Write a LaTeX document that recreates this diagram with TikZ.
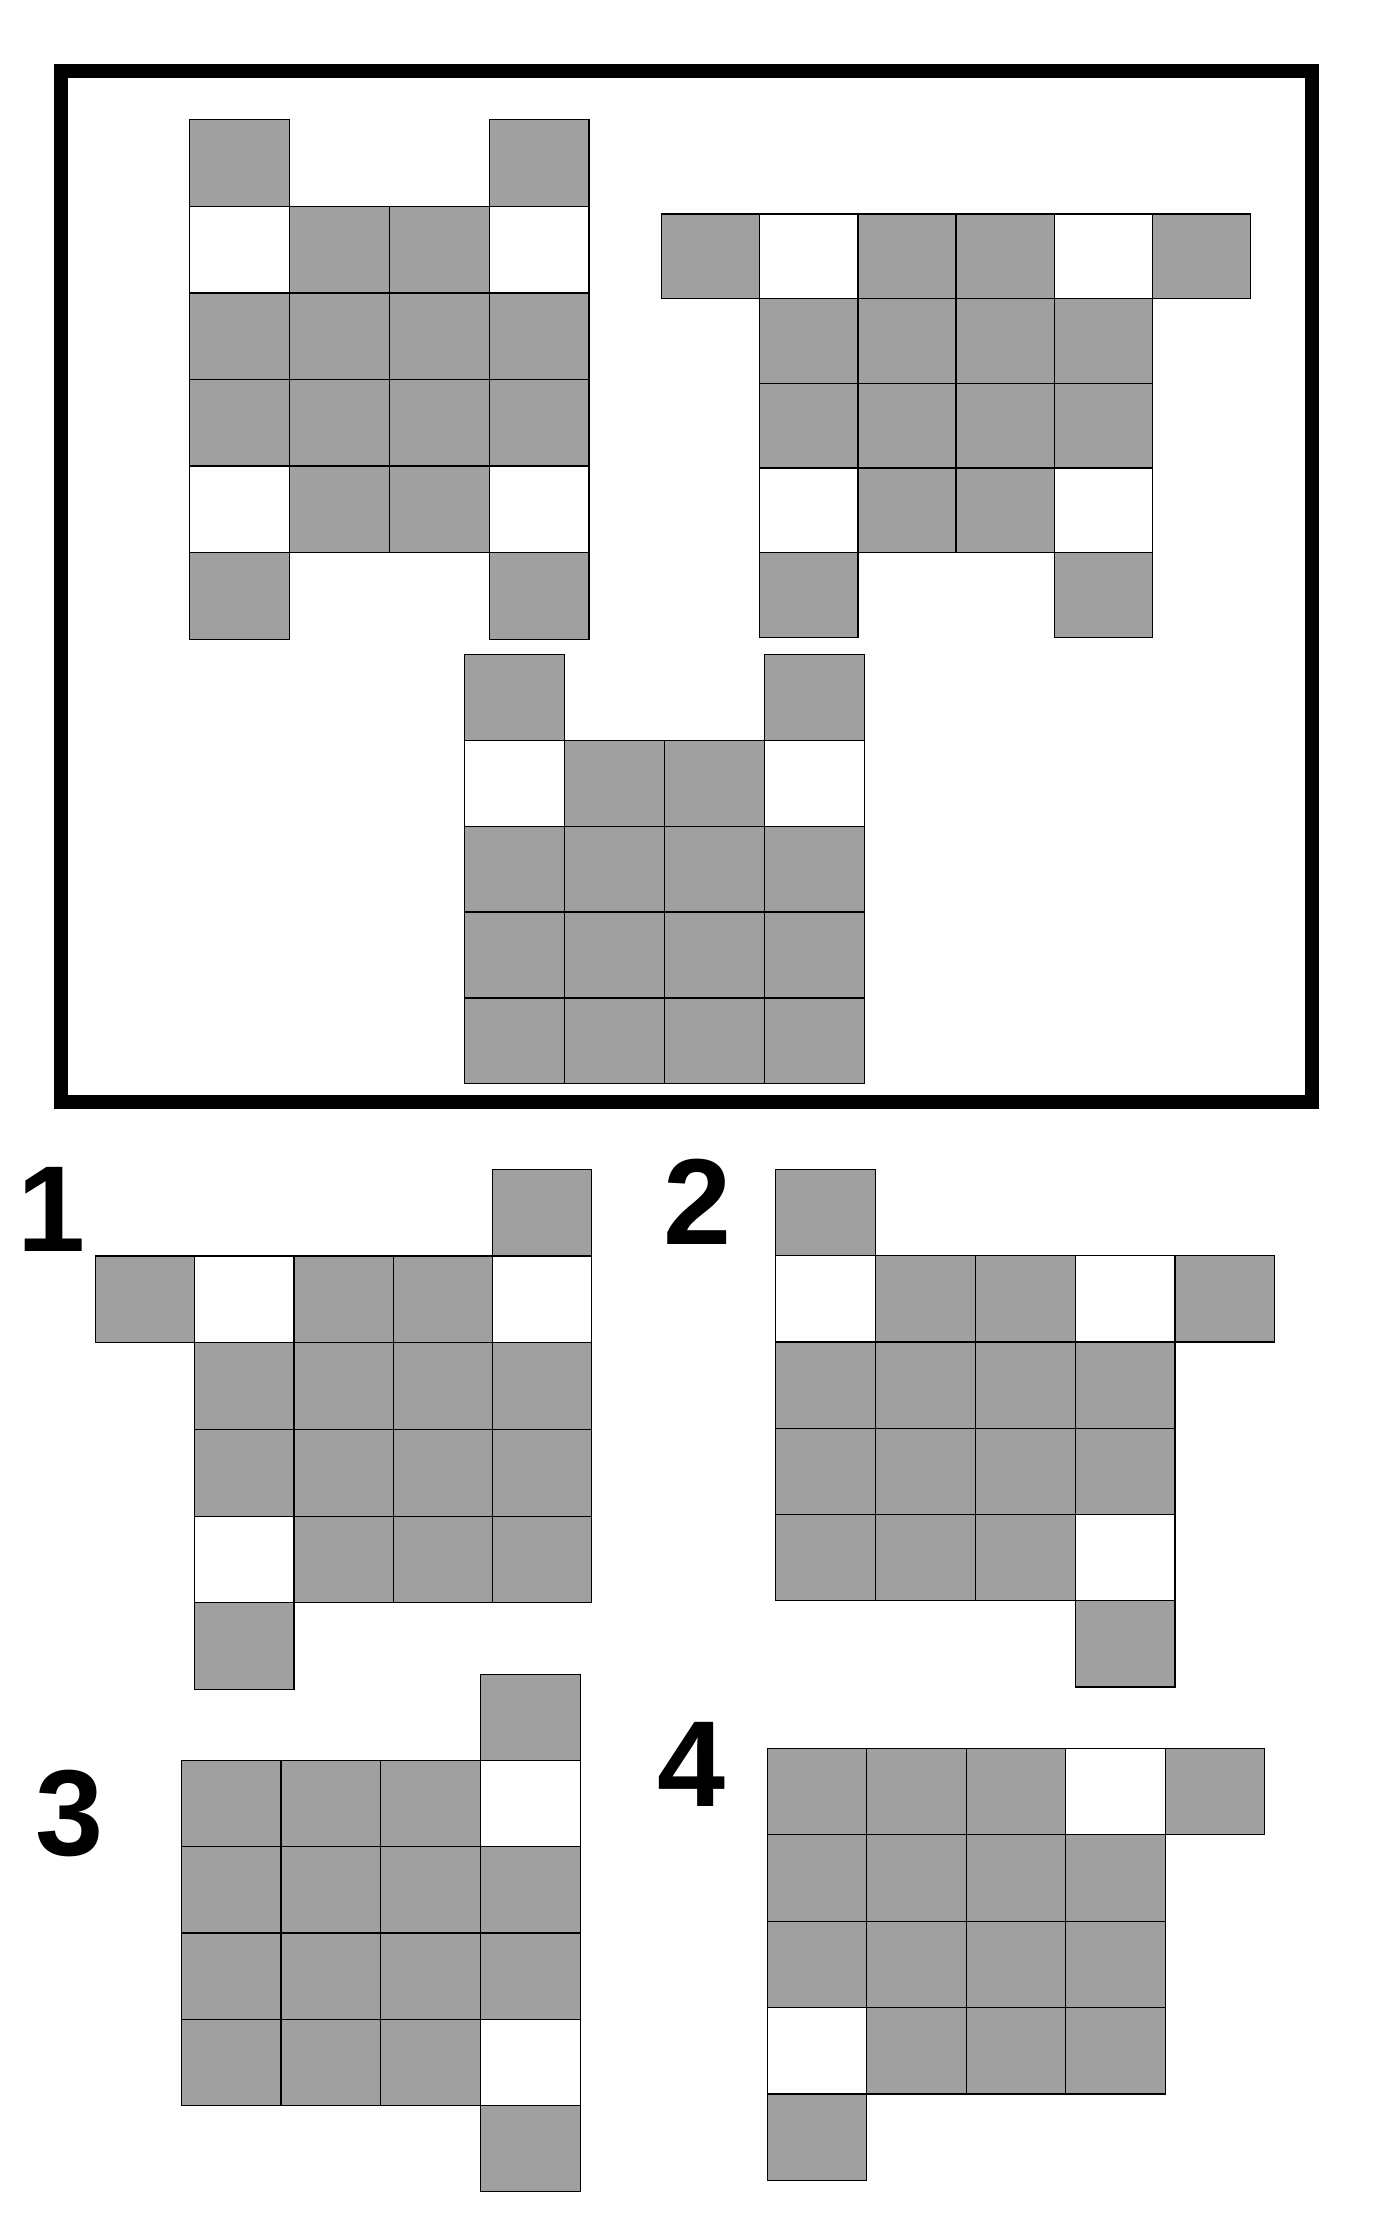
\documentclass[tikz,border=0pt]{standalone}
\usepackage{fontspec}
\setsansfont{Liberation Sans}
\usepackage{xcolor}
\definecolor{cellgray}{RGB}{160,160,160}

% #1,#2 top-left corner, #3,#4 cell size, #5 grey cells, #6 white cells (column/row)
\newcommand{\cellgrid}[6]{%
  \foreach \c/\r in {#5} {\draw[grey cell] (#1+\c*#3, #2+\r*#4) rectangle ++(#3,#4);}
  \foreach \c/\r in {#6} {\draw[blank cell] (#1+\c*#3, #2+\r*#4) rectangle ++(#3,#4);}
}

\begin{document}
\begin{tikzpicture}[
  x=0.025cm, y=-0.025cm,
  grey cell/.style={draw=black, line width=0.6pt, fill=cellgray},
  blank cell/.style={draw=black, line width=0.6pt, fill=white},
  frame/.style={draw=black, line width=7pt},
  option label/.style={font=\sffamily\bfseries\fontsize{61}{61}\selectfont, inner sep=0pt}
]
\useasboundingbox (0,0) rectangle (980,1568);

% question frame
\draw[frame] (43,50) rectangle (920,773);

% figures in the frame
\cellgrid{133}{84}{70}{60.7}
  {0/0,3/0,1/1,2/1,0/2,1/2,2/2,3/2,0/3,1/3,2/3,3/3,1/4,2/4,0/5,3/5}
  {0/1,3/1,0/4,3/4}
\cellgrid{464}{150}{68.8}{59.4}
  {0/0,2/0,3/0,5/0,1/1,2/1,3/1,4/1,1/2,2/2,3/2,4/2,2/3,3/3,1/4,4/4}
  {1/0,4/0,1/3,4/3}
\cellgrid{326}{459}{70}{60.2}
  {0/0,3/0,1/1,2/1,0/2,1/2,2/2,3/2,0/3,1/3,2/3,3/3,0/4,1/4,2/4,3/4}
  {0/1,3/1}

% answer options
\node[option label] (lab1) at (36,848) {1};
\cellgrid{67}{820}{69.6}{60.8}
  {4/0,0/1,2/1,3/1,1/2,2/2,3/2,4/2,1/3,2/3,3/3,4/3,2/4,3/4,4/4,1/5}
  {1/1,4/1,1/4}

\node[option label] (lab2) at (489,843) {2};
\cellgrid{544}{820}{70}{60.5}
  {0/0,1/1,2/1,4/1,0/2,1/2,2/2,3/2,0/3,1/3,2/3,3/3,0/4,1/4,2/4,3/5}
  {0/1,3/1,3/4}

\node[option label] (lab3) at (49,1272) {3};
\cellgrid{127}{1174}{70}{60.5}
  {3/0,0/1,1/1,2/1,0/2,1/2,2/2,3/2,0/3,1/3,2/3,3/3,0/4,1/4,2/4,3/5}
  {3/1,3/4}

\node[option label] (lab4) at (485,1237) {4};
\cellgrid{538}{1226}{69.8}{60.6}
  {0/0,1/0,2/0,4/0,0/1,1/1,2/1,3/1,0/2,1/2,2/2,3/2,1/3,2/3,3/3,0/4}
  {3/0,0/3}
\end{tikzpicture}
\end{document}
